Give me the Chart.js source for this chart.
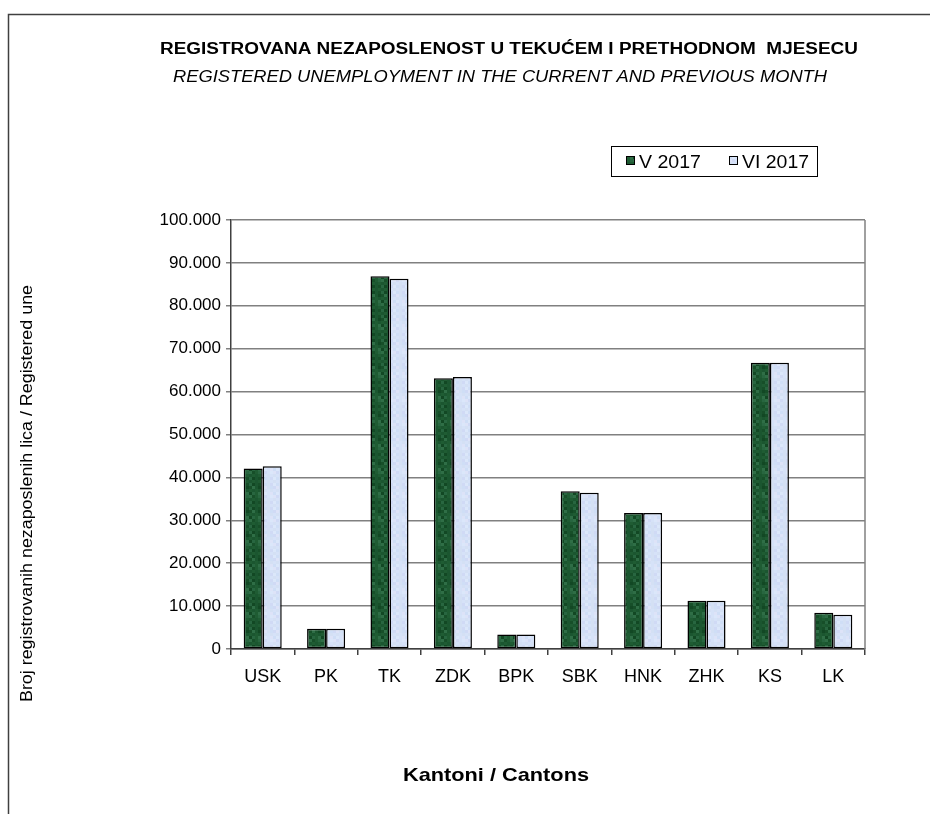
<!DOCTYPE html>
<html>
<head>
<meta charset="utf-8">
<script src="https://cdn.jsdelivr.net/npm/chart.js@4.4.1/dist/chart.umd.min.js"></script>
<style>
  html, body { margin: 0; padding: 0; background: #fff; }
  canvas { display: block; }
</style>
</head>
<body>
<canvas id="unemployment-chart" width="930" height="814"></canvas>
<script>
// Registrovana nezaposlenost po kantonima, V i VI 2017
const cantons = ['USK', 'PK', 'TK', 'ZDK', 'BPK', 'SBK', 'HNK', 'ZHK', 'KS', 'LK'];
const seriesLabels = ['V 2017', 'VI 2017'];
const may2017 = [42050, 4700, 86900, 63100, 3400, 36800, 31700, 11250, 66700, 8450];
const june2017 = [42600, 4700, 86300, 63400, 3400, 36400, 31700, 11250, 66700, 8000];
const yMax = 100000;
const yStep = 10000;

const titleText = 'REGISTROVANA NEZAPOSLENOST U TEKUĆEM I PRETHODNOM  MJESECU';
const subtitleText = 'REGISTERED UNEMPLOYMENT IN THE CURRENT AND PREVIOUS MONTH';
const yTitleText = 'Broj registrovanih nezaposlenih lica / Registered unemployed persons';
const yTitleVisible = 'Broj registrovanih nezaposlenih lica / Registered une';
const xTitleText = 'Kantoni / Cantons';

const FONT = '"Liberation Sans", Arial, sans-serif';
const canvas = document.getElementById('unemployment-chart');
const ctx = canvas.getContext('2d');

// speckled fill like the old Excel texture
function texture(shades) {
    const tile = document.createElement('canvas');
    tile.width = 12;
    tile.height = 24;
    const g = tile.getContext('2d');
    for (let i = 0; i < 4; i++) {
        for (let j = 0; j < 8; j++) {
            g.fillStyle = shades[(i * 3 + j * 5 + (i * j) % 3) % shades.length];
            g.fillRect(i * 3, j * 3, 3, 3);
        }
    }
    return ctx.createPattern(tile, 'repeat');
}

const greenFill = texture(['#1f5c33', '#174f29', '#286640', '#1b5630', '#2f6e46', '#124824']);
const blueFill = texture(['#d6e2f8', '#d0daf5', '#dbe7fa', '#d4e0f4', '#dde3f8', '#cfdef6']);

const formatThousands = (v) => String(v).replace(/\B(?=(\d{3})+(?!\d))/g, '.');

function fitText(c, text, x, y, width, align) {
    const w = c.measureText(text).width;
    c.save();
    c.translate(x, y);
    c.scale(width / w, 1);
    c.textAlign = align;
    c.fillText(text, 0, 0);
    c.restore();
}

const decorations = {
    id: 'decorations',
    afterDraw(chart) {
        const c = chart.ctx;
        const area = chart.chartArea;
        c.save();

        // outer frame
        c.strokeStyle = '#404040';
        c.lineWidth = 1.5;
        c.beginPath();
        c.moveTo(930, 14.5);
        c.lineTo(8.5, 14.5);
        c.lineTo(8.5, 814);
        c.stroke();

        // right edge of plot
        c.strokeStyle = '#808080';
        c.beginPath();
        c.moveTo(area.right, area.top);
        c.lineTo(area.right, area.bottom);
        c.stroke();

        c.fillStyle = '#000';
        c.textBaseline = 'alphabetic';
        c.font = 'bold 16px ' + FONT;
        fitText(c, titleText, 509, 54, 698, 'center');
        c.font = 'italic 16px ' + FONT;
        fitText(c, subtitleText, 500, 82, 654, 'center');

        // legend
        c.strokeStyle = '#000';
        c.lineWidth = 1;
        c.strokeRect(611.5, 146.5, 206, 30);
        const fills = [greenFill, blueFill];
        const keyX = [626, 729];
        const textW = [62, 67];
        c.font = '18px ' + FONT;
        seriesLabels.forEach((label, i) => {
            c.fillStyle = fills[i];
            c.fillRect(keyX[i], 156, 8, 8);
            c.strokeRect(keyX[i] + 0.5, 156.5, 8, 8);
            c.fillStyle = '#000';
            fitText(c, label, keyX[i] + 13, 168, textW[i], 'left');
        });

        // y title, cut off at the top as in the original
        c.save();
        c.beginPath();
        c.rect(0, 284, 60, 530);
        c.clip();
        c.translate(28, 702);
        c.rotate(-Math.PI / 2);
        c.font = '16px ' + FONT;
        c.textBaseline = 'middle';
        const s = 417 / c.measureText(yTitleVisible).width;
        c.scale(s, 1);
        c.textAlign = 'left';
        c.fillText(yTitleText, 0, 0);
        c.restore();

        c.font = 'bold 19px ' + FONT;
        c.fillStyle = '#000';
        fitText(c, xTitleText, 496, 781, 186, 'center');

        c.restore();
    },
};

new Chart(canvas, {
    type: 'bar',
    data: {
        labels: cantons,
        datasets: [
            {
                label: seriesLabels[0],
                data: may2017,
                backgroundColor: greenFill,
                borderColor: '#000',
                borderWidth: 1.5,
                borderSkipped: false,
            },
            {
                label: seriesLabels[1],
                data: june2017,
                backgroundColor: blueFill,
                borderColor: '#000',
                borderWidth: 1.5,
                borderSkipped: false,
            },
        ],
    },
    options: {
        responsive: false,
        animation: false,
        devicePixelRatio: 1,
        layout: { padding: { top: 220, right: 65, bottom: 0, left: 0 } },
        datasets: { bar: { barPercentage: 1, categoryPercentage: 0.6 } },
        plugins: {
            legend: { display: false },
            title: { display: false },
            tooltip: { enabled: false },
        },
        scales: {
            x: {
                afterFit: (scale) => { scale.height = 165; },
                grid: { drawOnChartArea: false, drawTicks: true, tickLength: 6, color: '#404040', lineWidth: 1.5 },
                border: { color: '#404040', width: 1.5 },
                ticks: { color: '#000', font: { family: FONT, size: 18 }, padding: 11, maxRotation: 0 },
            },
            y: {
                min: 0,
                max: yMax,
                afterFit: (scale) => { scale.width = 231; },
                grid: { color: '#808080', lineWidth: 1.5, tickLength: 5 },
                border: { color: '#404040', width: 1.5 },
                ticks: {
                    stepSize: yStep,
                    color: '#000',
                    padding: 5,
                    font: { family: FONT, size: 17 },
                    callback: (v) => formatThousands(v),
                },
            },
        },
    },
    plugins: [decorations],
});
</script>
</body>
</html>
